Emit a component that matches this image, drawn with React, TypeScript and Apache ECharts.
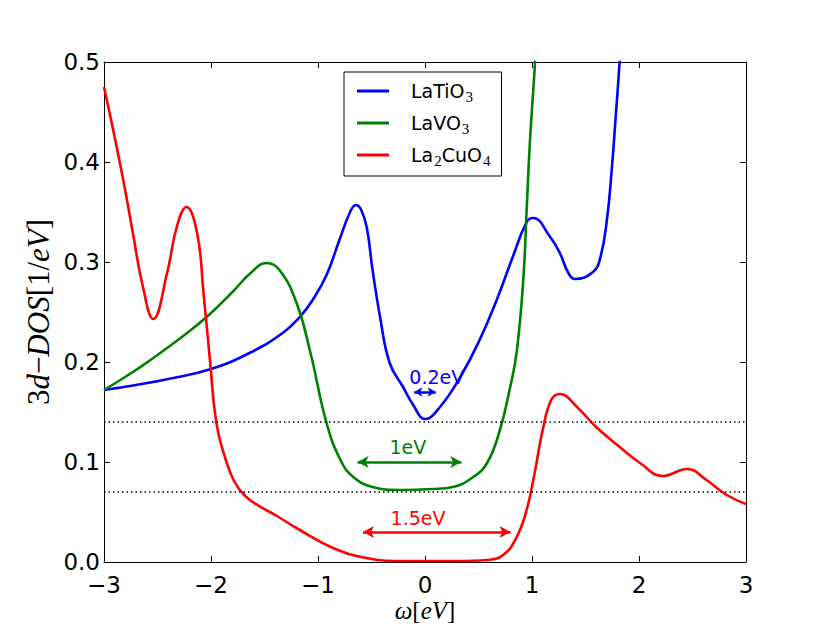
import React, { useEffect, useRef } from 'react';
import * as echarts from 'echarts';

// ---- data ----
const laTiO3: number[][] = [
  [-3.0, 0.172], [-2.7, 0.177], [-2.4, 0.183], [-2.0, 0.193], [-1.64, 0.209],
  [-1.33, 0.229], [-1.17, 0.245], [-1.05, 0.262], [-0.92, 0.287], [-0.8, 0.322],
  [-0.7, 0.350], [-0.645, 0.357], [-0.6, 0.353], [-0.545, 0.335], [-0.49, 0.292],
  [-0.42, 0.245], [-0.33, 0.199], [-0.205, 0.175], [-0.11, 0.157], [0.0, 0.143],
  [0.14, 0.155], [0.33, 0.185], [0.51, 0.222], [0.67, 0.262], [0.82, 0.305],
  [0.95, 0.340], [1.01, 0.344], [1.17, 0.325], [1.26, 0.309], [1.34, 0.289],
  [1.40, 0.283], [1.57, 0.290], [1.64, 0.305], [1.70, 0.342], [1.745, 0.392],
  [1.78, 0.442], [1.82, 0.502], [1.85, 0.56],
];

const laVO3: number[][] = [
  [-3.0, 0.172], [-2.73, 0.190], [-2.54, 0.204], [-2.41, 0.214], [-2.26, 0.226],
  [-2.03, 0.246], [-1.79, 0.271], [-1.64, 0.288], [-1.48, 0.299],
  [-1.36, 0.292], [-1.2, 0.259], [-1.07, 0.209], [-0.92, 0.139], [-0.79, 0.102],
  [-0.67, 0.085], [-0.49, 0.075], [-0.23, 0.072], [0.07, 0.073], [0.26, 0.075],
  [0.45, 0.085], [0.58, 0.099], [0.70, 0.132], [0.79, 0.172], [0.857, 0.21],
  [0.92, 0.285], [0.95, 0.352], [0.98, 0.419], [1.03, 0.502], [1.06, 0.56],
];

const la2CuO4: number[][] = [
  [-3.0, 0.475], [-2.92, 0.435], [-2.82, 0.382], [-2.73, 0.329], [-2.64, 0.277],
  [-2.54, 0.243], [-2.41, 0.289], [-2.32, 0.335], [-2.23, 0.355], [-2.13, 0.329],
  [-2.07, 0.269], [-2.01, 0.202], [-1.95, 0.139], [-1.87, 0.105], [-1.78, 0.080],
  [-1.68, 0.066], [-1.55, 0.056], [-1.4, 0.047], [-1.17, 0.032], [-0.86, 0.014],
  [-0.545, 0.004], [-0.23, 0.001], [0.3, 0.001], [0.58, 0.002], [0.73, 0.007],
  [0.857, 0.025], [0.95, 0.052], [1.03, 0.092], [1.10, 0.132], [1.18, 0.162],
  [1.26, 0.168], [1.42, 0.155], [1.60, 0.135], [1.82, 0.115], [2.01, 0.099],
  [2.22, 0.086], [2.45, 0.093], [2.63, 0.082], [2.82, 0.067], [3.0, 0.058],
];

const seriesNames = ['LaTiO3', 'LaVO3', 'La2CuO4'];
const legendLabels: Record<string, string> = {
  LaTiO3: 'LaTiO{s|3}',
  LaVO3: 'LaVO{s|3}',
  La2CuO4: 'La{s|2}CuO{s|4}',
};
const guideLevels = [0.14, 0.07];
// gap arrows: [from, to, y], label text and label x position
const tiArrow = [-0.1, 0.1, 0.17];
const vArrow = [-0.63, 0.34, 0.1];
const cuArrow = [-0.58, 0.8, 0.03];
const gapLabels = ['0.2eV', '1eV', '1.5eV'];
const gapLabelX = [0.11, -0.16, -0.065];

const xMin = -3, xMax = 3, yMin = 0, yMax = 0.5;

const BLUE = '#0000ff';
const GREEN = '#008000';
const RED = '#ff0000';
const SANS = 'DejaVu Sans';
const SERIF = 'Liberation Serif';

function arrowMark(a: number[], color: string, size: number[]) {
  return {
    silent: true,
    symbol: ['arrow', 'arrow'],
    symbolSize: size,
    lineStyle: { color, width: 2.5, type: 'solid' },
    label: { show: false },
    emphasis: { disabled: true },
    data: [[{ coord: [a[0], a[2]] }, { coord: [a[1], a[2]] }]],
  };
}

function textMark(x: number, y: number, text: string, color: string, distance: number) {
  return {
    silent: true,
    data: [{
      coord: [x, y],
      symbol: 'circle',
      symbolSize: 0,
      itemStyle: { color: 'transparent' },
      label: {
        show: true, position: 'top', distance, formatter: text,
        color, fontSize: 19, fontFamily: SANS,
      },
    }],
  };
}

export default function App() {
  const ref = useRef<HTMLDivElement>(null);
  useEffect(() => {
    if (!ref.current) return;
    const chart = echarts.init(ref.current, null, { renderer: 'svg' });
    const axisLine = { show: true, onZero: false, lineStyle: { color: '#000', width: 1 } };
    const tick = { show: true, inside: true, length: 6, lineStyle: { color: '#000', width: 1 } };
    const minusFmt = (v: number) => (v < 0 ? '\u2212' + Math.abs(v) : String(v));
    const xNameRich = {
      r: { fontFamily: SERIF, fontSize: 25, color: '#000' },
      i: { fontFamily: SERIF, fontSize: 25, fontStyle: 'italic', color: '#000' },
    };
    const yNameRich = {
      r: { fontFamily: SERIF, fontSize: 31, color: '#000' },
      i: { fontFamily: SERIF, fontSize: 31, fontStyle: 'italic', color: '#000' },
    };
    const lineSeries = (name: string, data: number[][], color: string, z: number) => ({
      name, type: 'line', data, smooth: 0.45, symbol: 'none', clip: true,
      lineStyle: { color, width: 2.6 }, itemStyle: { color }, z,
    });
    const option: any = {
      animation: false,
      backgroundColor: '#fff',
      grid: { left: 104, right: 84, top: 62, bottom: 64, containLabel: false, outerBoundsMode: 'none' },
      xAxis: [
        {
          type: 'value', min: xMin, max: xMax, interval: 1, position: 'bottom',
          axisLine, axisTick: tick, splitLine: { show: false },
          axisLabel: { formatter: minusFmt, color: '#000', fontSize: 23, lineHeight: 18, fontFamily: SANS, margin: 14 },
          name: '{i|\u03c9}{r|[}{i|eV}{r|]}', nameLocation: 'middle', nameGap: 36, nameMoveOverlap: false,
          nameTextStyle: { rich: xNameRich },
        },
        {
          type: 'value', min: xMin, max: xMax, interval: 1, position: 'top',
          axisLine, axisTick: tick, splitLine: { show: false }, axisLabel: { show: false },
        },
      ],
      yAxis: [
        {
          type: 'value', min: yMin, max: yMax, interval: 0.1, position: 'left',
          axisLine, axisTick: tick, splitLine: { show: false },
          axisLabel: { formatter: (v: number) => v.toFixed(1), color: '#000', fontSize: 23, lineHeight: 18, fontFamily: SANS, margin: 4 },
          name: '{r|3}{i|d}{r|\u2212}{i|DOS}{r|[1/}{i|eV}{r|]}', nameLocation: 'middle', nameGap: 50, nameMoveOverlap: false,
          nameTextStyle: { rich: yNameRich },
        },
        {
          type: 'value', min: yMin, max: yMax, interval: 0.1, position: 'right',
          axisLine, axisTick: tick, splitLine: { show: false }, axisLabel: { show: false },
        },
      ],
      legend: {
        data: seriesNames,
        orient: 'vertical',
        left: 344, top: 72,
        backgroundColor: '#fff',
        borderColor: '#000', borderWidth: 1, borderRadius: 0,
        padding: [6, 11, 8, 13],
        icon: 'rect', itemWidth: 32, itemHeight: 3, itemGap: 6,
        selectedMode: false,
        formatter: (name: string) => legendLabels[name],
        textStyle: {
          color: '#000', fontSize: 19, fontFamily: SANS, padding: [0, 0, 0, 17],
          rich: {
            s: { fontSize: 15, fontFamily: SERIF, color: '#000', lineHeight: 15, padding: [11, 0, 0, 1] },
          },
        },
      },
      series: [
        {
          ...lineSeries('LaTiO3', laTiO3, BLUE, 2),
          markLine: arrowMark(tiArrow, BLUE, [7, 8]),
          markPoint: textMark(gapLabelX[0], tiArrow[2], gapLabels[0], BLUE, 6),
        },
        {
          ...lineSeries('LaVO3', laVO3, GREEN, 3),
          markLine: arrowMark(vArrow, GREEN, [9, 11]),
          markPoint: textMark(gapLabelX[1], vArrow[2], gapLabels[1], GREEN, 6),
        },
        {
          ...lineSeries('La2CuO4', la2CuO4, RED, 4),
          markLine: arrowMark(cuArrow, RED, [9, 11]),
          markPoint: textMark(gapLabelX[2], cuArrow[2], gapLabels[2], RED, 5),
        },
        {
          name: 'guides', type: 'line', data: [], symbol: 'none', z: 1,
          markLine: {
            silent: true, symbol: 'none', label: { show: false },
            lineStyle: { color: '#000', width: 1.5, type: [1.5, 3] },
            data: guideLevels.map((v) => ({ yAxis: v })),
          },
        },
      ],
    };
    chart.setOption(option);
    return () => chart.dispose();
  }, []);
  return <div ref={ref} style={{ position: 'absolute', left: 0, top: 0, width: 830, height: 626 }} />;
}
